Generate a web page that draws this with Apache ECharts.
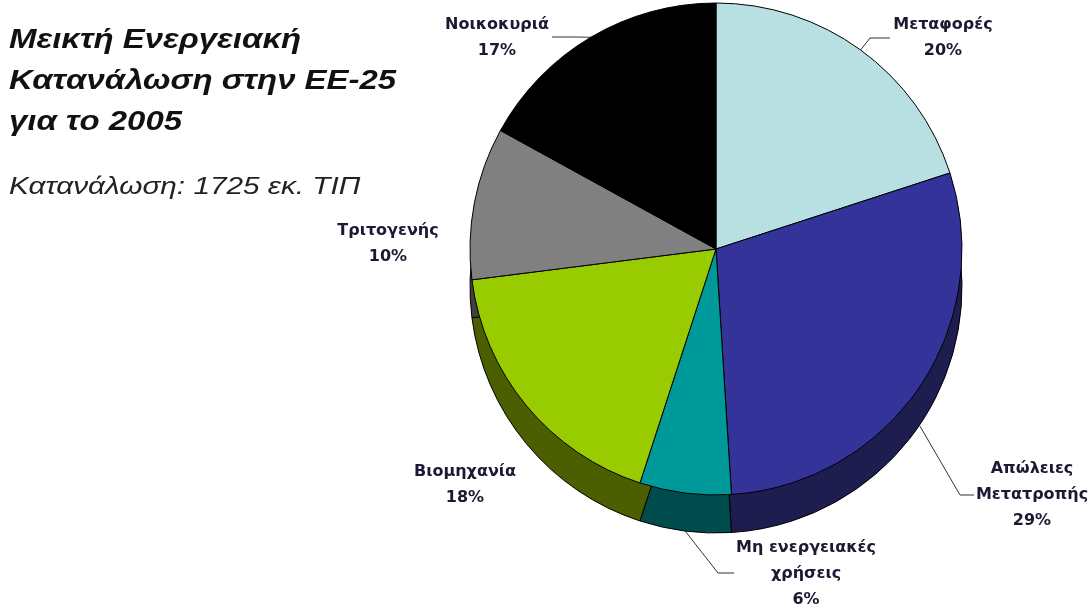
<!DOCTYPE html>
<html>
<head>
<meta charset="utf-8">
<script src="https://cdn.jsdelivr.net/npm/echarts@6/dist/echarts.min.js"></script>
<style>
  html, body { margin: 0; padding: 0; background: #fff; }
  #chart { width: 1092px; height: 607px; }
</style>
</head>
<body>
<div id="chart"></div>
<script>
// data (share of consumption, %)
const categories = ['Μεταφορές', 'Απώλειες\nΜετατροπής', 'Μη ενεργειακές\nχρήσεις', 'Βιομηχανία', 'Τριτογενής', 'Νοικοκυριά'];
const shares = [20, 29, 6, 18, 10, 17];

const titleLines = ['Μεικτή Ενεργειακή', 'Κατανάλωση στην ΕΕ-25', 'για το 2005'];
const subtitle = 'Κατανάλωση: 1725 εκ. ΤΙΠ';

const topColors = ['#b8dfe1', '#333399', '#009999', '#99cc00', '#808080', '#000000'];
const sideColors = ['#7fa5a8', '#1e1d4f', '#004b4b', '#4b5e00', '#404040', '#000000'];

// label block centres and leader line bends
const labelPos = [[943, 38], [1032, 495], [806, 574], [465, 485], [388, 244], [497, 38]];
const leaders = [
  [[870, 38], [890, 38]],
  [[960, 495], [974, 495]],
  [[718, 573], [734, 573]],
  null,
  null,
  [[574, 37], [552, 37]]
];

const CX = 716, CY = 249, R = 246, DEPTH = 38;

let myChart = echarts.init(document.getElementById('chart'));

function pieData(colors, withLabels) {
  return categories.map(function (name, i) {
    return {
      name: name,
      value: shares[i],
      itemStyle: { color: colors[i] },
      labelLine: { show: withLabels && leaders[i] != null }
    };
  });
}

// the source font is a horizontally stretched Arial, hence scaleX
let titleGraphic = titleLines.map(function (t, i) {
  return {
    type: 'text',
    x: 9,
    y: 41 + i * 41,
    scaleX: 1.22,
    style: {
      text: t,
      font: 'italic bold 27px "Liberation Sans"',
      fill: '#111',
      verticalAlign: 'middle'
    }
  };
});
titleGraphic.push({
  type: 'text',
  x: 9,
  y: 187,
  scaleX: 1.24,
  style: {
    text: subtitle,
    font: 'italic 24px "Liberation Sans"',
    fill: '#222',
    verticalAlign: 'middle'
  }
});

let option = {
  backgroundColor: '#fff',
  animation: false,
  graphic: titleGraphic,
  series: [
    {
      // extruded side of the pie
      name: 'side',
      type: 'pie',
      center: [CX, CY + DEPTH],
      radius: [0, R],
      startAngle: 90,
      clockwise: true,
      silent: true,
      z: 1,
      label: { show: false },
      labelLine: { show: false },
      itemStyle: { borderColor: '#000', borderWidth: 1 },
      data: pieData(sideColors, false)
    },
    {
      name: 'top',
      type: 'pie',
      center: [CX, CY],
      radius: [0, R],
      startAngle: 90,
      clockwise: true,
      silent: true,
      z: 2,
      itemStyle: { borderColor: '#000', borderWidth: 1 },
      label: {
        show: true,
        position: 'outside',
        formatter: '{b}\n{c}%',
        fontFamily: 'DejaVu Sans',
        fontWeight: 'bold',
        fontSize: 16,
        lineHeight: 26,
        color: '#1a1a33',
        align: 'center'
      },
      labelLine: {
        show: true,
        lineStyle: { color: '#333', width: 1 }
      },
      labelLayout: function (params) {
        const i = params.dataIndex;
        const p = labelPos[i];
        const out = { x: p[0], y: p[1], align: 'center', verticalAlign: 'middle' };
        if (leaders[i]) {
          // start the leader on the rim at the slice's mid angle
          let sum = 0;
          for (let k = 0; k < i; k++) sum += shares[k];
          const mid = (sum + shares[i] / 2) / 100 * Math.PI * 2;
          let sx = CX + Math.sin(mid) * R;
          let sy = CY - Math.cos(mid) * R;
          if (Math.cos(mid) < 0) sy += DEPTH;
          out.labelLinePoints = [[sx, sy], leaders[i][0], leaders[i][1]];
        }
        return out;
      },
      data: pieData(topColors, true)
    }
  ]
};
myChart.setOption(option);
</script>
</body>
</html>
